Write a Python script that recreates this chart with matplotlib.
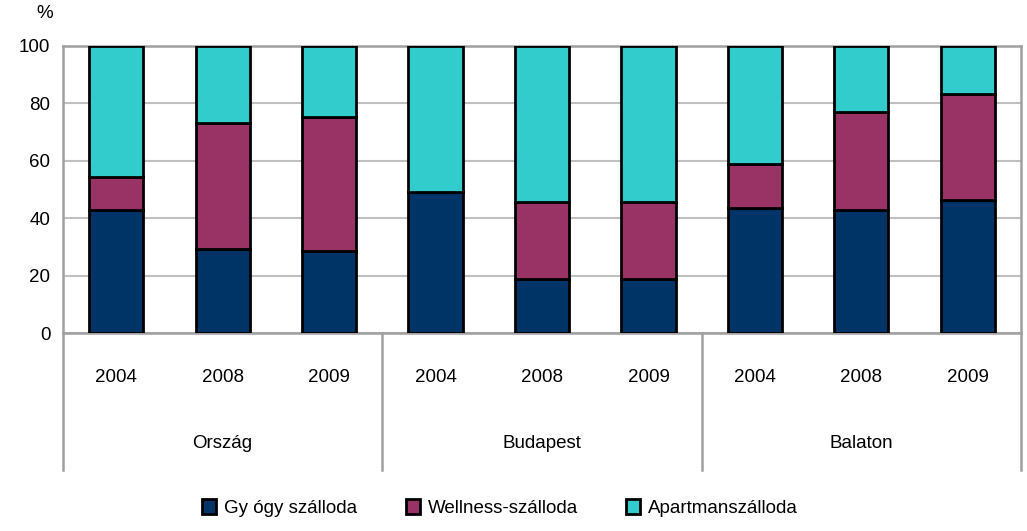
import matplotlib.pyplot as plt
import numpy as np
from matplotlib.patches import Patch

plt.rcParams['font.family'] = ['Liberation Sans', 'DejaVu Sans']

# values (percent)
groups = ['Ország', 'Budapest', 'Balaton']
years = ['2004', '2008', '2009']
gyogy = [42.8, 29.3, 28.6, 49.3, 18.8, 18.8, 43.5, 42.8, 46.5]
wellness = [11.6, 44.0, 46.8, 0.0, 26.8, 26.8, 15.3, 34.2, 36.8]
apartman = [45.6, 26.7, 24.6, 50.7, 54.4, 54.4, 41.2, 23.0, 16.7]
series_names = ['Gy ógy szálloda', 'Wellness-szálloda', 'Apartmanszálloda']
colors = ['#003366', '#993366', '#33CCCC']

W, H = 1027, 531
fig = plt.figure(figsize=(W / 100, H / 100), dpi=100)
ax = fig.add_axes([63 / W, (H - 333) / H, 958 / W, 287 / H])
fs = 13.5

x = np.arange(len(gyogy))
bottom = np.zeros(len(x))
for vals, col in zip([gyogy, wellness, apartman], colors):
    vals = np.array(vals)
    ax.bar(x, vals, bottom=bottom, width=0.51, color=col, edgecolor='black',
           linewidth=2.0, zorder=3)
    bottom += vals

ax.set_xlim(-0.5, len(x) - 0.5)
ax.set_ylim(0, 100)
ax.set_yticks(range(0, 101, 20))
ax.tick_params(axis='y', length=0, pad=9, labelsize=fs)
ax.set_xticks([])
ax.yaxis.grid(True, color='#c0c0c0', linewidth=1.5, zorder=0)
for s in ax.spines.values():
    s.set_color('#a0a0a0')
    s.set_linewidth(1.8)

fig.text(45 / W, 1 - 14 / H, '%', ha='center', va='center', fontsize=fs)

# two-level category axis
trans = ax.get_xaxis_transform()
for i, y in enumerate(years * len(groups)):
    ax.annotate(y, xy=(x[i], 0), xycoords=trans, xytext=(0, -44),
                textcoords='offset pixels', ha='center', va='center', fontsize=fs)
for i, g in enumerate(groups):
    ax.annotate(g, xy=(3 * i + 1, 0), xycoords=trans, xytext=(0, -110),
                textcoords='offset pixels', ha='center', va='center', fontsize=fs)
for b in [-0.5, 2.5, 5.5, 8.5]:
    ax.plot([b, b], [0, -137 / 287], transform=trans, color='#a0a0a0',
            linewidth=1.8, clip_on=False)

handles = [Patch(facecolor=c, edgecolor='black', linewidth=2.0) for c in colors]
fig.legend(handles, series_names, loc='center', bbox_to_anchor=(0.487, 1 - 508 / H),
           ncol=3, frameon=False, fontsize=fs, handlelength=0.75, handleheight=0.9,
           handletextpad=0.4, columnspacing=2.6)

fig.savefig('out.png', dpi=100)
